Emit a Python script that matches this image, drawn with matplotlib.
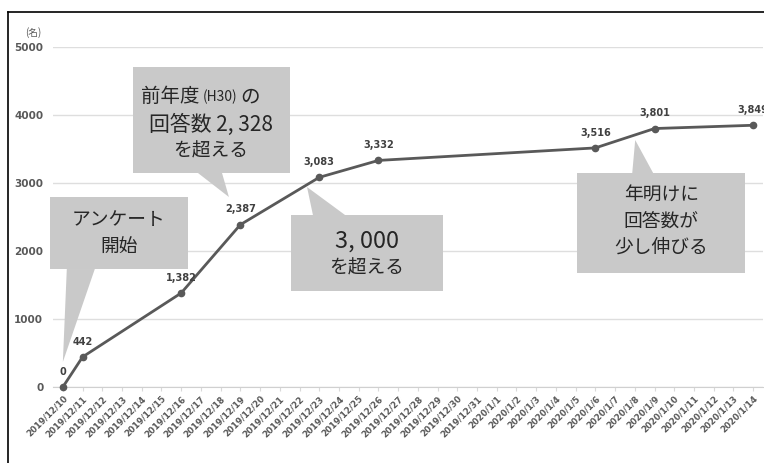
import matplotlib.pyplot as plt
from matplotlib.patches import Polygon
from matplotlib.lines import Line2D

plt.rcParams['font.family'] = ['Noto Sans CJK JP', 'DejaVu Sans']

# daily categories on the x axis
dates = (["2019/12/%d" % d for d in range(10, 32)] +
         ["2020/1/%d" % d for d in range(1, 15)])

# survey answers counted on the days that were reported
survey_days = ["2019/12/10", "2019/12/11", "2019/12/16", "2019/12/19",
               "2019/12/23", "2019/12/26", "2020/1/6", "2020/1/9", "2020/1/14"]
answers = [0, 442, 1382, 2387, 3083, 3332, 3516, 3801, 3849]

y_ticks = [0, 1000, 2000, 3000, 4000, 5000]

BOX = "#c9c9c9"
TXT = "#262626"
GREY = "#595959"


def callout(ax, x0, x1, y0, y1, base, tip):
    """Grey box with a pointer wedge; base is (xa, xb, y) on the box edge."""
    ax.add_patch(Polygon([(x0, y0), (x1, y0), (x1, y1), (x0, y1)],
                         closed=True, fc=BOX, ec="none", zorder=1, clip_on=False))
    xa, xb, yb = base
    ax.add_patch(Polygon([(xa, yb), (xb, yb), tip], closed=True,
                         fc=BOX, ec="none", zorder=1, clip_on=False))


fig = plt.figure(figsize=(7.64, 4.63), dpi=100)
ax = fig.add_axes([53 / 764, 1 - 387 / 463, 710 / 764, 340 / 463])

xs = [dates.index(d) for d in survey_days]

# callouts sit underneath the line
callout(ax, -0.66, 6.34, 1735, 2794, (0.2, 1.62, 1735), (0.0, 368))
ax.text(2.84, 2265, "アンケート\n開始", ha="center", va="center",
        fontsize=13.5, color=TXT, linespacing=1.35, zorder=2)

callout(ax, 3.55, 11.52, 3147, 4706, (6.85, 8.07, 3147), (8.42, 2794))
ax.text(6.95, 4265, "前年度", ha="right", va="center", fontsize=14, color=TXT, zorder=2)
ax.text(7.97, 4265, "(H30)", ha="center", va="center", fontsize=10, color=TXT, zorder=2)
ax.text(9.02, 4265, "の", ha="left", va="center", fontsize=14, color=TXT, zorder=2)
ax.text(7.5, 3853, "回答数 2, 328", ha="center", va="center", fontsize=15, color=TXT, zorder=2)
ax.text(7.5, 3471, "を超える", ha="center", va="center", fontsize=13.5, color=TXT, zorder=2)

callout(ax, 11.57, 19.28, 1412, 2529, (12.68, 14.31, 2529), (12.38, 2941))
ax.text(15.42, 2147, "3, 000", ha="center", va="center", fontsize=17, color=TXT, zorder=2)
ax.text(15.42, 1750, "を超える", ha="center", va="center", fontsize=13.5, color=TXT, zorder=2)

callout(ax, 26.08, 34.6, 1676, 3147, (28.87, 29.93, 3147), (29.02, 3632))
ax.text(30.34, 2441, "年明けに\n回答数が\n少し伸びる", ha="center", va="center",
        fontsize=13.5, color=TXT, linespacing=1.3, zorder=2)

# answer count line
ax.plot(xs, answers, color=GREY, lw=2, marker="o", ms=4.5, zorder=3, clip_on=False)
for x, v in zip(xs, answers):
    ax.annotate(f"{v:,}", (x, v), xytext=(0, 11), textcoords="offset points",
                ha="center", va="center", fontsize=7, color="#404040",
                family="DejaVu Sans", fontweight="bold", zorder=4,
                annotation_clip=False)

ax.set_xlim(-0.5, 35.5)
ax.set_ylim(0, 5000)
ax.set_yticks(y_ticks)
ax.set_yticklabels([str(t) for t in y_ticks], family="DejaVu Sans",
                   fontweight="bold", fontsize=7.5, color=GREY)
ax.set_xticks(range(len(dates)))
ax.set_xticklabels(dates, rotation=45, ha="right", rotation_mode="anchor",
                   family="DejaVu Sans", fontweight="bold", fontsize=6.2, color=GREY)
ax.tick_params(axis="y", length=0, pad=7)
ax.tick_params(axis="x", length=3, color="#d9d9d9", pad=2)
ax.grid(axis="y", color="#dedede", lw=1)
ax.set_axisbelow(True)
for side in ["top", "right", "left"]:
    ax.spines[side].set_visible(False)
ax.spines["bottom"].set_color("#d0d0d0")

fig.text(25 / 764, 1 - 33 / 463, "(名)", fontsize=7, color=GREY, ha="left", va="center")

# outer frame
fig.add_artist(Line2D([8 / 764, 8 / 764], [0, 1 - 12 / 463], color="black", lw=1.2))
fig.add_artist(Line2D([8 / 764, 1], [1 - 12 / 463, 1 - 12 / 463], color="black", lw=1.2))

fig.savefig("out.png", dpi=100)
